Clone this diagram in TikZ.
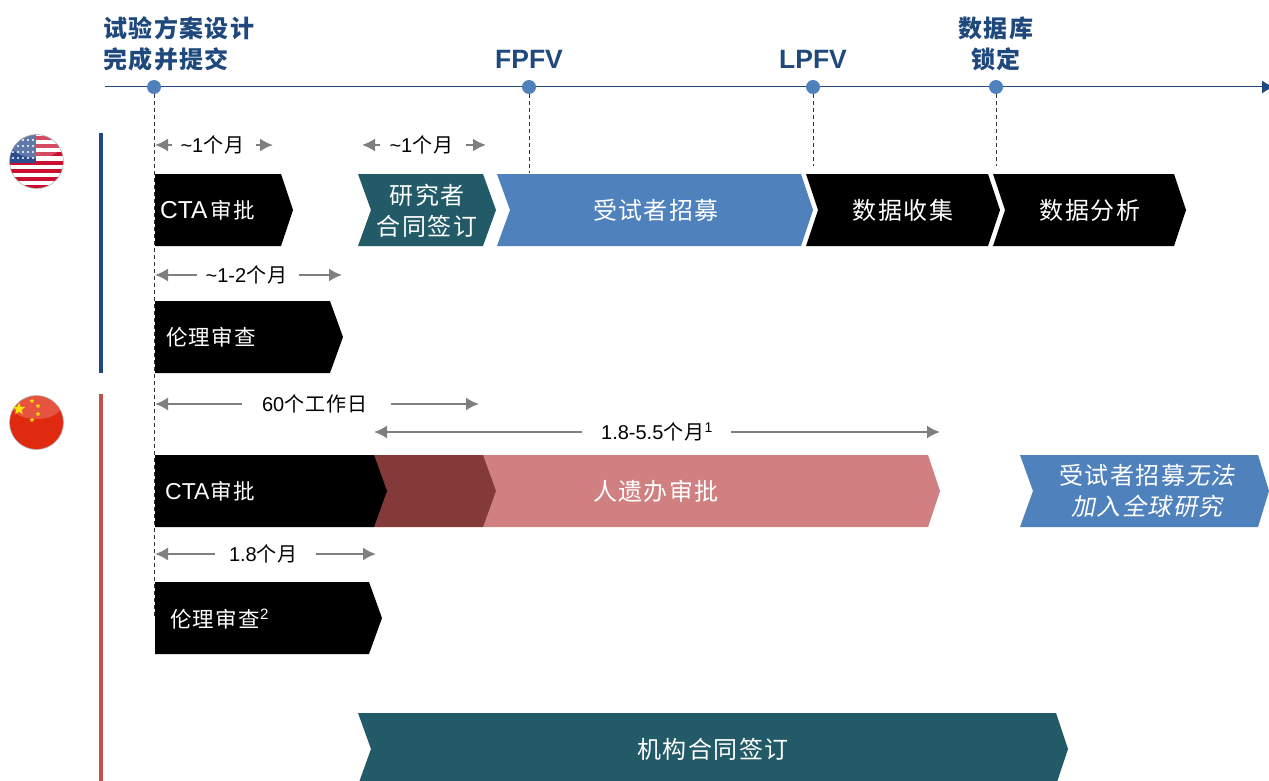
\documentclass[tikz,border=0pt]{standalone}
\usepackage{fontspec}
\setmainfont{Liberation Sans}
\newfontfamily\cjk[LetterSpace=6]{Noto Sans CJK SC}
\newfontfamily\cjkslant[LetterSpace=6,FakeSlant=0.2]{Noto Sans CJK SC}
\usetikzlibrary{shapes.geometric,arrows.meta}
\definecolor{navyline}{HTML}{1F497D}
\definecolor{dotblue}{HTML}{4F81BD}
\definecolor{tealbar}{HTML}{225A67}
\definecolor{pinkbar}{HTML}{D08080}
\definecolor{maroonbar}{HTML}{853A3A}
\definecolor{redline}{HTML}{C0504D}
\definecolor{rangegray}{HTML}{7F7F7F}
\definecolor{cantonblue}{HTML}{2B4C8C}
\definecolor{stripered}{HTML}{C8102E}
\definecolor{flagred}{HTML}{E02A10}
\tikzset{
    milestone/.style={circle, fill=dotblue, minimum size=14pt, inner sep=0pt},
    headlabel/.style={text=navyline, font=\fontsize{24}{31}\selectfont\bfseries\cjk, align=center, inner sep=0pt},
    barlabel/.style={text=white, font=\fontsize{24}{31}\selectfont\cjk, align=center, inner sep=0pt},
    sidelabel/.style={barlabel, anchor=west, font=\fontsize{21.5}{31}\selectfont\cjk},
    rangelabel/.style={text=black, font=\fontsize{20}{24}\selectfont, inner sep=0pt},
    rangearrow/.style={draw=rangegray, line width=2pt, -{Latex[length=13pt,width=13pt]}},
    droplink/.style={black!80, line width=1pt, dash pattern=on 4pt off 3pt},
    flagstar/.style={star, star points=5, star point ratio=2.4, fill=yellow!90!orange, inner sep=0pt},
}
\begin{document}
\begin{tikzpicture}[x=1pt, y=-1pt]
    \useasboundingbox (0,0) rectangle (1269,781);
    % side bars
    \fill[navyline] (99,133) rectangle (103,373);
    \fill[redline] (99,394) rectangle (103,781);
    % time line
    \coordinate (axisstart) at (105,87);
    \coordinate (axisend) at (1274,87);
    \draw[navyline, line width=1pt, -{Latex[length=12pt,width=13pt]}] (axisstart) -- (axisend);
    \node[milestone] (design) at (154,87) {};
    \node[milestone] (fpfv) at (529,87) {};
    \node[milestone] (lpfv) at (813,87) {};
    \node[milestone] (lock) at (996,87) {};
    \coordinate (designend) at (154,616);
    \coordinate (fpfvend) at (529,173);
    \coordinate (lpfvend) at (813,166);
    \coordinate (lockend) at (996,166);
    \draw[droplink] (design) -- (designend);
    \draw[droplink] (fpfv) -- (fpfvend);
    \draw[droplink] (lpfv) -- (lpfvend);
    \draw[droplink] (lock) -- (lockend);
    \node[headlabel, anchor=west, align=left] (designlabel) at (103,43.5) {试验方案设计\\完成并提交};
    \node[headlabel, font=\fontsize{26.5}{31}\selectfont\bfseries] (fpfvlabel) at (529,59) {FPFV};
    \node[headlabel, font=\fontsize{26.5}{31}\selectfont\bfseries] (lpfvlabel) at (813,59) {LPFV};
    \node[headlabel] (locklabel) at (996,43.5) {数据库\\锁定};
    % first country
    \fill[black] (155,174) -- (281,174) -- (293,210) -- (281,246) -- (155,246) -- cycle;
    \fill[tealbar] (358,174) -- (483,174) -- (496,210) -- (483,246) -- (358,246) -- (371,210) -- cycle;
    \fill[dotblue] (497,174) -- (801,174) -- (813,210) -- (801,246) -- (497,246) -- (510,210) -- cycle;
    \fill[black] (806,174) -- (988,174) -- (1000,210) -- (988,246) -- (806,246) -- (818,210) -- cycle;
    \fill[black] (993,174) -- (1174,174) -- (1186,210) -- (1174,246) -- (993,246) -- (1005,210) -- cycle;
    \fill[black] (155,301) -- (330,301) -- (343,337) -- (330,373) -- (155,373) -- cycle;
    \node[sidelabel] (ctaone) at (160,210) {{\fontsize{24.5}{31}\selectfont\fontspec{Liberation Sans}CTA}\kern3pt 审批};
    \node[barlabel] (contract) at (427,211) {研究者\\合同签订};
    \node[barlabel] (recruitone) at (656,210) {受试者招募};
    \node[barlabel] (collect) at (903,210) {数据收集};
    \node[barlabel] (analyse) at (1090,210) {数据分析};
    \node[sidelabel] (ethicsone) at (166,337) {伦理审查};
    % second country
    \fill[pinkbar] (483,455) -- (928,455) -- (940,491) -- (928,527) -- (483,527) -- cycle;
    \fill[maroonbar] (374,455) -- (483,455) -- (496,491) -- (483,527) -- (374,527) -- cycle;
    \fill[black] (155,455) -- (374,455) -- (387,491) -- (374,527) -- (155,527) -- cycle;
    \fill[dotblue] (1020,455) -- (1258,455) -- (1269,491) -- (1258,527) -- (1020,527) -- (1033,491) -- cycle;
    \fill[black] (155,582) -- (369,582) -- (382,618) -- (369,654) -- (155,654) -- cycle;
    \fill[tealbar] (358,713) -- (1056,713) -- (1068,749) -- (1056,785) -- (358,785) -- (371,749) -- cycle;
    \node[sidelabel] (ctatwo) at (165,491) {{\fontsize{23}{31}\selectfont\fontspec{Liberation Sans}CTA}\kern1pt 审批};
    \node[barlabel] (genetic) at (656,491) {人遗办审批};
    \node[barlabel] (recruittwo) at (1147,491) {受试者招募{\cjkslant 无法}\\{\cjkslant 加入全球研究}};
    \node[sidelabel] (ethicstwo) at (170,619) {伦理审查{\fontspec{Liberation Sans}\textsuperscript{2}}};
    \node[barlabel] (institution) at (713,749) {机构合同签订};
    % time ranges
    \node[rangelabel] (rangea) at (212.5,145) {\textasciitilde 1{\cjk 个月}};
    \coordinate (rangeaw) at (155,145);
    \coordinate (rangeae) at (273,145);
    \draw[rangearrow] (rangea.west) ++(-8,0) -- (rangeaw);
    \draw[rangearrow] (rangea.east) ++(11,0) -- (rangeae);
    \node[rangelabel] (rangeb) at (421.5,145) {\textasciitilde 1{\cjk 个月}};
    \coordinate (rangebw) at (362,145);
    \coordinate (rangebe) at (486,145);
    \draw[rangearrow] (rangeb.west) ++(-9,0) -- (rangebw);
    \draw[rangearrow] (rangeb.east) ++(12,0) -- (rangebe);
    \node[rangelabel] (rangec) at (246.5,275) {\textasciitilde 1-2{\cjk 个月}};
    \coordinate (rangecw) at (155,275);
    \coordinate (rangece) at (342,275);
    \draw[rangearrow] (rangec.west) ++(-8,0) -- (rangecw);
    \draw[rangearrow] (rangec.east) ++(11,0) -- (rangece);
    \node[rangelabel] (ranged) at (315,404) {60{\cjk 个工作日}};
    \coordinate (rangedw) at (155,404);
    \coordinate (rangede) at (479,404);
    \draw[rangearrow] (ranged.west) ++(-20,0) -- (rangedw);
    \draw[rangearrow] (ranged.east) ++(23,0) -- (rangede);
    \node[rangelabel] (rangee) at (657,432) {1.8-5.5{\cjk 个月}\textsuperscript{1}};
    \coordinate (rangeew) at (374,432);
    \coordinate (rangeee) at (940,432);
    \draw[rangearrow] (rangee.west) ++(-19,0) -- (rangeew);
    \draw[rangearrow] (rangee.east) ++(18,0) -- (rangeee);
    \node[rangelabel] (rangef) at (263.5,554) {1.8{\cjk 个月}};
    \coordinate (rangefw) at (155,554);
    \coordinate (rangefe) at (376,554);
    \draw[rangearrow] (rangef.west) ++(-14,0) -- (rangefw);
    \draw[rangearrow] (rangef.east) ++(18,0) -- (rangefe);
    % flags
    \begin{scope}
        \clip (36.5,161.5) circle (27);
        \fill[white] (9,134) rectangle (64,189);
        \foreach \i in {0,...,6} {
            \fill[stripered] (9,{136+\i*8.2}) rectangle (64,{140+\i*8.2});
        }
        \fill[cantonblue] (9,134) rectangle (36,163);
        \foreach \px in {13,18,23,28,33} {
            \foreach \py in {140,146,152,158} {
                \fill[white] (\px,\py) circle (1.2);
            }
        }
        \fill[white, opacity=0.25] (36.5,146) ellipse (24 and 12);
    \end{scope}
    \draw[gray!60, line width=0.6pt] (36.5,161.5) circle (27);
    \begin{scope}
        \clip (36.5,422.5) circle (27);
        \fill[flagred] (9,395) rectangle (64,450);
        \fill[white, opacity=0.2] (36.5,407) ellipse (24 and 12);
    \end{scope}
    \draw[gray!60, line width=0.6pt] (36.5,422.5) circle (27);
    \node[flagstar, minimum size=13pt] (starbig) at (19,409) {};
    \foreach \i/\px/\py in {1/32/401,2/38/406,3/38/414,4/32/420} {
        \node[flagstar, minimum size=5pt] (star\i) at (\px,\py) {};
    }
\end{tikzpicture}
\end{document}
